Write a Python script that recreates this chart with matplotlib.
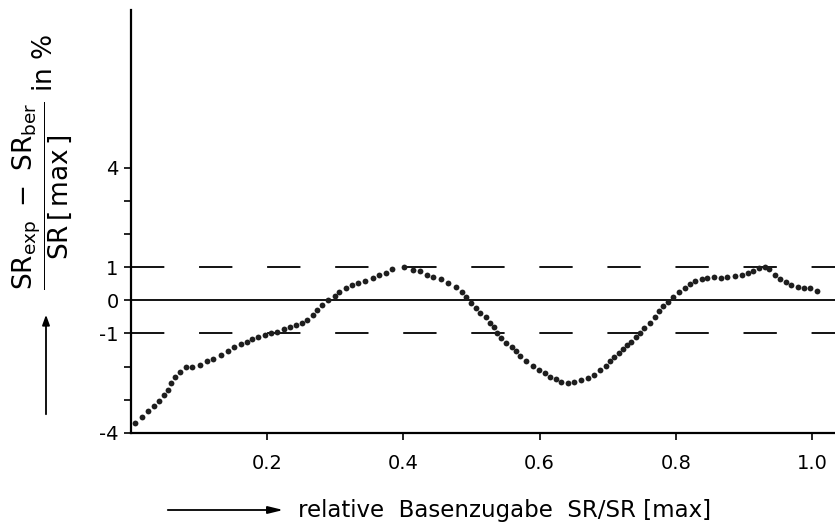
import matplotlib
matplotlib.use("Agg")
import matplotlib.pyplot as plt

plt.rcParams["font.family"] = ["DejaVu Sans"]
plt.rcParams["mathtext.fontset"] = "dejavusans"
plt.rcParams["lines.scale_dashes"] = False

# measured deviation curve (dotted)
x_vals = [0.006, 0.016, 0.025, 0.034, 0.041, 0.048, 0.054, 0.059, 0.065, 0.072,
          0.080, 0.090, 0.101, 0.111, 0.121, 0.132, 0.142, 0.151, 0.161, 0.170,
          0.178, 0.187, 0.196, 0.205, 0.215, 0.225, 0.234, 0.242, 0.251, 0.259,
          0.267, 0.273, 0.280, 0.289, 0.299, 0.306, 0.316, 0.325, 0.334, 0.344,
          0.355, 0.364, 0.374, 0.383, 0.401, 0.414, 0.425, 0.435, 0.444, 0.455,
          0.465, 0.478, 0.486, 0.492, 0.499, 0.506, 0.513, 0.521, 0.527, 0.533,
          0.537, 0.544, 0.551, 0.559, 0.566, 0.572, 0.580, 0.590, 0.599, 0.608,
          0.616, 0.624, 0.632, 0.642, 0.651, 0.661, 0.671, 0.680, 0.689, 0.697,
          0.704, 0.710, 0.716, 0.723, 0.729, 0.735, 0.741, 0.747, 0.754, 0.762,
          0.769, 0.775, 0.782, 0.789, 0.796, 0.805, 0.813, 0.821, 0.828, 0.838,
          0.846, 0.856, 0.866, 0.876, 0.887, 0.897, 0.906, 0.914, 0.922, 0.931,
          0.937, 0.946, 0.953, 0.962, 0.969, 0.980, 0.989, 0.997, 1.007]
y_vals = [-3.70, -3.52, -3.35, -3.20, -3.04, -2.87, -2.69, -2.49, -2.32, -2.15,
          -2.01, -2.01, -1.96, -1.84, -1.78, -1.64, -1.54, -1.41, -1.31, -1.25,
          -1.17, -1.10, -1.04, -0.98, -0.95, -0.88, -0.82, -0.75, -0.70, -0.60,
          -0.44, -0.29, -0.14, 0.01, 0.14, 0.26, 0.38, 0.46, 0.52, 0.59,
          0.68, 0.76, 0.83, 0.94, 1.00, 0.92, 0.87, 0.77, 0.69, 0.65,
          0.52, 0.41, 0.24, 0.09, -0.07, -0.22, -0.37, -0.49, -0.67, -0.82,
          -0.98, -1.13, -1.28, -1.40, -1.54, -1.68, -1.83, -1.99, -2.11, -2.19,
          -2.31, -2.38, -2.45, -2.49, -2.46, -2.41, -2.34, -2.24, -2.11, -1.98,
          -1.84, -1.71, -1.59, -1.46, -1.35, -1.25, -1.12, -0.98, -0.83, -0.67,
          -0.49, -0.32, -0.17, -0.04, 0.11, 0.26, 0.38, 0.48, 0.57, 0.64,
          0.68, 0.69, 0.67, 0.70, 0.72, 0.75, 0.82, 0.87, 0.97, 1.00,
          0.94, 0.77, 0.65, 0.55, 0.46, 0.41, 0.38, 0.36, 0.28]

x_ticks = [0.2, 0.4, 0.6, 0.8, 1.0]
x_labels = ["0.2", "0.4", "0.6", "0.8", "1.0"]
y_ticks = [-4, -3, -2, -1, 0, 1, 2, 3, 4]
y_labels = ["-4", "", "", "-1", "0", "1", "", "", "4"]

fig = plt.figure(figsize=(8.35, 5.28), dpi=100)
ax = fig.add_axes([0.157, 0.18, 0.843, 0.801])

ax.axhline(0, color="black", lw=1.3)
for lvl in (1, -1):
    ax.axhline(lvl, color="black", lw=1.3, ls=(0, (24, 25)))

ax.plot(x_vals, y_vals, ls="none", marker="o", ms=4.2, color="#1e1e1e",
        markeredgewidth=0)

ax.set_xlim(0, 1.034)
ax.set_ylim(-4, 8.75)
for s in ("top", "right"):
    ax.spines[s].set_visible(False)
for s in ("left", "bottom"):
    ax.spines[s].set_linewidth(1.6)

ax.set_xticks(x_ticks)
ax.set_xticklabels(x_labels)
ax.set_yticks(y_ticks)
ax.set_yticklabels(y_labels)
ax.tick_params(axis="both", direction="out", length=5, width=1.2, labelsize=14)
ax.tick_params(axis="x", pad=10)
ax.tick_params(axis="y", pad=4)

# y label as fraction plus arrow
fig.text(0.052, 1 - 162 / 528,
         r"$\dfrac{\mathrm{SR_{exp}\ -\ SR_{ber}}}{\mathrm{SR\,[\,max\,]}}$ in %",
         rotation=90, ha="center", va="center", fontsize=19)
fig.add_artist(matplotlib.patches.FancyArrowPatch(
    (46 / 835, 1 - 417 / 528), (46 / 835, 1 - 312 / 528),
    transform=fig.transFigure, arrowstyle="-|>,head_length=6,head_width=2.2",
    lw=1.3, color="black"))

# x label with arrow
fig.add_artist(matplotlib.patches.FancyArrowPatch(
    (165 / 835, 1 - 510 / 528), (286 / 835, 1 - 510 / 528),
    transform=fig.transFigure, arrowstyle="-|>,head_length=9,head_width=2.2",
    lw=1.3, color="black"))
fig.text(298 / 835, 1 - 510 / 528, "relative  Basenzugabe  SR/SR [max]",
         ha="left", va="center", fontsize=16.5)

fig.savefig("out.png", dpi=100)
